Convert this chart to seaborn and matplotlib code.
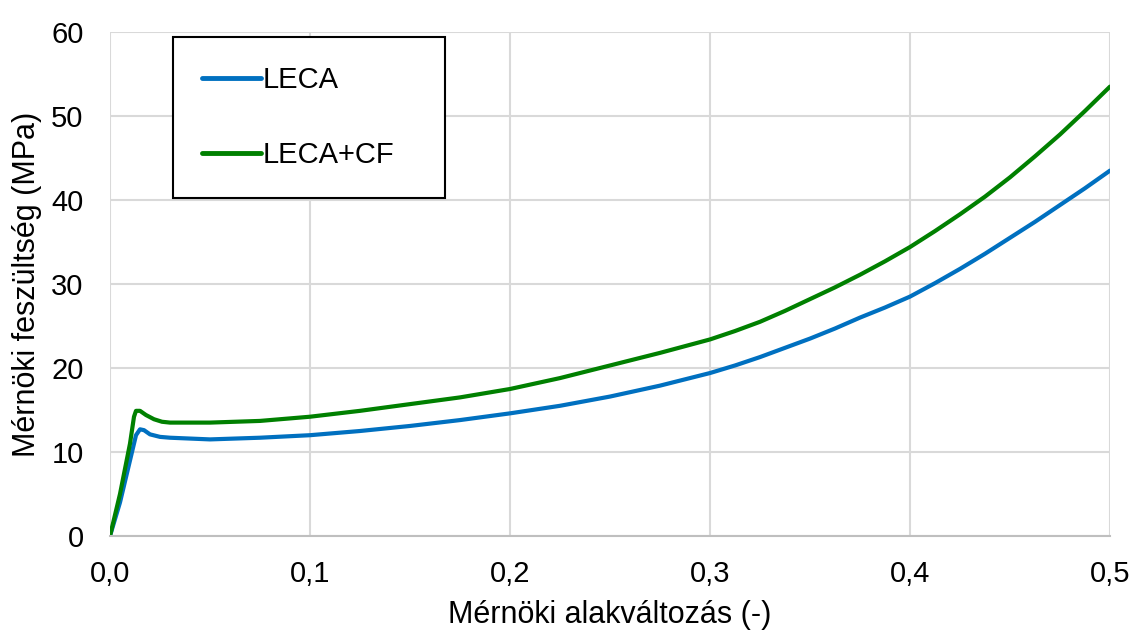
import numpy as np
import pandas as pd
import matplotlib
matplotlib.use("Agg")
import matplotlib.pyplot as plt
from matplotlib.ticker import FuncFormatter, MultipleLocator
import seaborn as sns

# Engineering strain (-) and engineering stress (MPa)
leca_strain = [0, 0.005, 0.01, 0.013, 0.015, 0.017, 0.02, 0.025, 0.03, 0.04,
               0.05, 0.075, 0.1, 0.125, 0.15, 0.175, 0.2, 0.225, 0.25, 0.275,
               0.3, 0.3125, 0.325, 0.3375, 0.35, 0.3625, 0.375, 0.3875, 0.4,
               0.4125, 0.425, 0.4375, 0.45, 0.4625, 0.475, 0.4875, 0.5]
leca_stress = [0, 4.0, 9.0, 12.0, 12.7, 12.6, 12.1, 11.8, 11.7, 11.6,
               11.5, 11.7, 12.0, 12.5, 13.1, 13.8, 14.6, 15.5, 16.6, 17.9,
               19.4, 20.3, 21.3, 22.4, 23.5, 24.7, 26.0, 27.2, 28.5,
               30.1, 31.8, 33.6, 35.5, 37.4, 39.4, 41.4, 43.5]

lecacf_strain = [0, 0.005, 0.01, 0.012, 0.013, 0.015, 0.018, 0.022, 0.026, 0.03,
                 0.04, 0.05, 0.075, 0.1, 0.125, 0.15, 0.175, 0.2, 0.225, 0.25,
                 0.275, 0.3, 0.3125, 0.325, 0.3375, 0.35, 0.3625, 0.375, 0.3875,
                 0.4, 0.4125, 0.425, 0.4375, 0.45, 0.4625, 0.475, 0.4875, 0.5]
lecacf_stress = [0, 5.0, 11.0, 14.2, 14.9, 14.9, 14.4, 13.9, 13.6, 13.5,
                 13.5, 13.5, 13.7, 14.2, 14.9, 15.7, 16.5, 17.5, 18.8, 20.3,
                 21.8, 23.4, 24.4, 25.5, 26.8, 28.2, 29.6, 31.1, 32.7,
                 34.4, 36.3, 38.3, 40.4, 42.7, 45.2, 47.8, 50.6, 53.5]

series_names = ["LECA", "LECA+CF"]
series_colors = ["#0070C0", "#008000"]

df = pd.concat([
    pd.DataFrame({"strain": leca_strain, "stress": leca_stress, "minta": "LECA"}),
    pd.DataFrame({"strain": lecacf_strain, "stress": lecacf_stress, "minta": "LECA+CF"}),
])

sns.set_style("white")
plt.rcParams["font.family"] = ["Liberation Sans", "DejaVu Sans"]
plt.rcParams["text.color"] = "black"

fig = plt.figure(figsize=(11.32, 6.32), dpi=100)
ax = fig.add_axes([110 / 1132, 96 / 632, 1000 / 1132, 504 / 632])

sns.lineplot(data=df, x="strain", y="stress", hue="minta",
             hue_order=series_names, palette=series_colors,
             linewidth=3.0, sort=False, estimator=None, ax=ax)
for line in ax.get_lines():
    line.set_solid_joinstyle("round")
    line.set_solid_capstyle("round")

ax.set_xlim(0, 0.5)
ax.set_ylim(0, 60)
ax.xaxis.set_major_locator(MultipleLocator(0.1))
ax.yaxis.set_major_locator(MultipleLocator(10))
ax.xaxis.set_major_formatter(FuncFormatter(lambda v, p: f"{v:.1f}".replace(".", ",")))
ax.yaxis.set_major_formatter(FuncFormatter(lambda v, p: f"{v:.0f}"))
ax.grid(True, color="#d9d9d9", linewidth=1.5)
ax.set_axisbelow(True)
for side in ["top", "right", "left"]:
    ax.spines[side].set_visible(False)
ax.spines["bottom"].set_color("#bfbfbf")
ax.spines["bottom"].set_linewidth(1.5)
ax.tick_params(axis="both", length=0, labelsize=21, colors="black")
ax.tick_params(axis="y", pad=19)
ax.tick_params(axis="x", pad=17)

ax.set_xlabel("Mérnöki alakváltozás (-)", fontsize=22, color="black")
ax.set_ylabel("Mérnöki feszültség (MPa)", fontsize=22, color="black")
ax.xaxis.set_label_coords(0.5, -0.127)
ax.yaxis.set_label_coords(-0.068, 0.5)

leg = ax.legend(loc="upper left", bbox_to_anchor=(0.063, 0.667, 0.272, 0.323),
                mode="expand", borderaxespad=0, fontsize=21, frameon=True,
                fancybox=False, handlelength=2.0, handletextpad=0.07,
                labelspacing=1.6, borderpad=1.0)
leg.get_frame().set_edgecolor("black")
leg.get_frame().set_linewidth(1.5)
leg.get_frame().set_alpha(1)
for line in leg.get_lines():
    line.set_linewidth(3.5)
    line.set_solid_capstyle("round")

fig.savefig("out.png", dpi=100)
